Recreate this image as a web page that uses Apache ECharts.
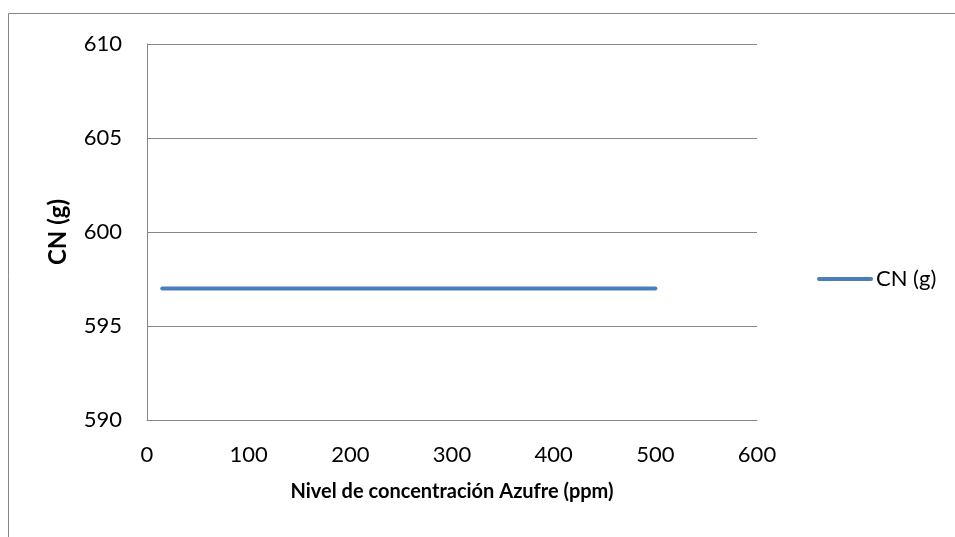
<!DOCTYPE html>
<html>
<head>
<meta charset="utf-8">
<script src="https://cdn.jsdelivr.net/npm/echarts@6/dist/echarts.min.js"></script>
<style>
  html, body { margin: 0; padding: 0; background: #fff; }
  #chart { width: 955px; height: 537px; }
</style>
</head>
<body>
<div id="chart"></div>
<script>
// Sulfur concentration (ppm) vs. CN (g)
const sulfurPpm = [15, 500];
const cnGrams = [597, 597];
const seriesName = 'CN (g)';
const xTitle = 'Nivel de concentración Azufre (ppm)';
const yTitle = 'CN (g)';

const font = 'Lato, "Open Sans", sans-serif';
const axisGray = '#868686';

const chart = echarts.init(document.getElementById('chart'));
chart.setOption({
  backgroundColor: '#fff',
  animation: false,
  graphic: [{
    type: 'rect',
    shape: { x: 8.5, y: 13.5, width: 1000, height: 600 },
    style: { fill: 'none', stroke: axisGray, lineWidth: 1 },
    silent: true
  }],
  grid: { left: 147, top: 44, width: 610, height: 376, containLabel: false },
  legend: {
    left: 817, top: 268, padding: 0,
    itemWidth: 56, itemHeight: 4,
    itemGap: 4,
    textStyle: { fontFamily: font, fontSize: 22, color: '#000', padding: [0, 0, 0, -2] },
    data: [{ name: seriesName, icon: 'path://M2,0H54A2,2 0 0 1 54,4H2A2,2 0 0 1 2,0Z' }]
  },
  xAxis: {
    type: 'value', min: 0, max: 600, interval: 100,
    name: xTitle, nameLocation: 'middle', nameGap: 62,
    nameTextStyle: { fontFamily: font, fontSize: 20, fontWeight: 'bold', color: '#000' },
    axisLine: { show: true, lineStyle: { color: axisGray, width: 1 } },
    axisTick: { show: false },
    splitLine: { show: false },
    axisLabel: { fontFamily: font, fontSize: 22, color: '#000', margin: 24 }
  },
  yAxis: {
    type: 'value', min: 590, max: 610, interval: 5,
    name: yTitle, nameLocation: 'middle', nameGap: 77, nameRotate: 90,
    nameTextStyle: { fontFamily: font, fontSize: 24, fontWeight: 'bold', color: '#000' },
    axisLine: { show: true, lineStyle: { color: axisGray, width: 1 } },
    axisTick: { show: false },
    splitLine: { show: true, lineStyle: { color: axisGray, width: 1 } },
    axisLabel: { fontFamily: font, fontSize: 22, color: '#000', margin: 25 }
  },
  series: [{
    name: seriesName,
    type: 'line',
    data: sulfurPpm.map((x, i) => [x, cnGrams[i]]),
    showSymbol: false,
    symbol: 'none',
    lineStyle: { color: '#4A7EBB', width: 4, cap: 'round' },
    itemStyle: { color: '#4A7EBB' }
  }]
});
</script>
</body>
</html>
